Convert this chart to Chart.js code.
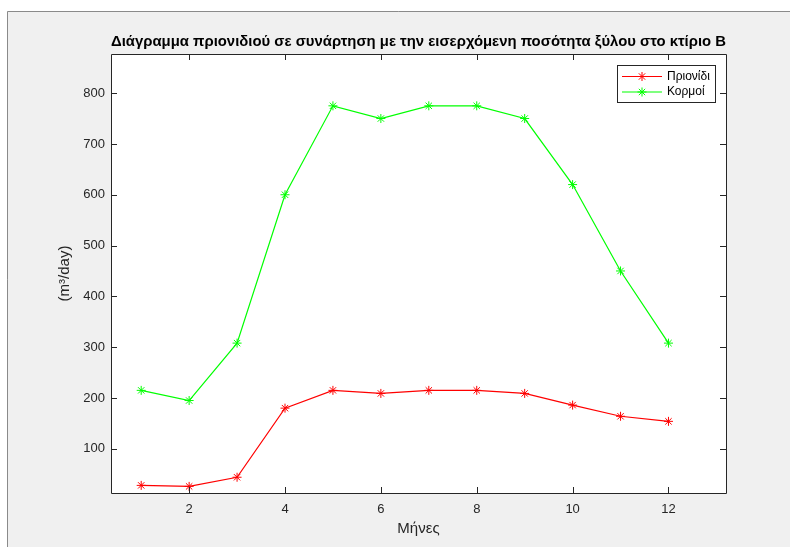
<!DOCTYPE html>
<html>
<head>
<meta charset="utf-8">
<title>Πριονίδι - Κορμοί</title>
<script src="https://cdn.jsdelivr.net/npm/chart.js@4.4.1/dist/chart.umd.min.js"></script>
<style>
    html, body { margin: 0; padding: 0; background: #ffffff; }
    canvas { display: block; }
</style>
</head>
<body>
<canvas id="woodChart" width="790" height="547"></canvas>
<script>
// months of the year
const months = [1, 2, 3, 4, 5, 6, 7, 8, 9, 10, 11, 12];
// sawdust produced (m3/day)
const sawdust = [28, 26, 44, 180, 215, 209, 215, 215, 209, 186, 164, 154];
// incoming logs (m3/day)
const logs = [215, 195, 308, 600, 775, 750, 775, 775, 750, 620, 450, 308];

const seriesNames = ["Πριονίδι", "Κορμοί"];
const seriesColors = ["#ff0000", "#00ff00"];

const xTickValues = [2, 4, 6, 8, 10, 12];
const yTickValues = [100, 200, 300, 400, 500, 600, 700, 800];

const axisColor = "#262626";
const fontFamily = "'Liberation Sans', Arial, Helvetica, sans-serif";

function toPoints(values) {
    return months.map((m, i) => ({ x: m, y: values[i] }));
}

// grey figure window with a white axes area
const figureFrame = {
    id: "figureFrame",
    beforeDraw(chart) {
        const ctx = chart.ctx;
        const area = chart.chartArea;
        ctx.save();
        ctx.fillStyle = "#ffffff";
        ctx.fillRect(0, 0, chart.width, chart.height);
        ctx.fillStyle = "#f0f0f0";
        ctx.fillRect(7, 11, chart.width - 7, chart.height - 11);
        ctx.strokeStyle = "#8a8a8a";
        ctx.lineWidth = 1;
        ctx.beginPath();
        ctx.moveTo(7.5, chart.height);
        ctx.lineTo(7.5, 11.5);
        ctx.lineTo(chart.width, 11.5);
        ctx.stroke();
        ctx.fillStyle = "#ffffff";
        ctx.fillRect(area.left, area.top, area.right - area.left, area.bottom - area.top);
        ctx.restore();
    }
};

// box around the axes with inward tick marks on all four sides
const axesBox = {
    id: "axesBox",
    afterDatasetsDraw(chart) {
        const ctx = chart.ctx;
        const a = chart.chartArea;
        const xs = chart.scales.x;
        const ys = chart.scales.y;
        const len = 6;
        ctx.save();
        ctx.strokeStyle = axisColor;
        ctx.lineWidth = 1;
        ctx.beginPath();
        ctx.rect(Math.round(a.left) + 0.5, Math.round(a.top) + 0.5,
            Math.round(a.right - a.left), Math.round(a.bottom - a.top));
        xTickValues.forEach(v => {
            const px = Math.round(xs.getPixelForValue(v)) + 0.5;
            ctx.moveTo(px, a.bottom);
            ctx.lineTo(px, a.bottom - len);
            ctx.moveTo(px, a.top);
            ctx.lineTo(px, a.top + len);
        });
        yTickValues.forEach(v => {
            const py = Math.round(ys.getPixelForValue(v)) + 0.5;
            ctx.moveTo(a.left, py);
            ctx.lineTo(a.left + len, py);
            ctx.moveTo(a.right, py);
            ctx.lineTo(a.right - len, py);
        });
        ctx.stroke();
        ctx.restore();
    }
};

function drawStar(ctx, x, y, r) {
    const d = r * Math.SQRT1_2;
    ctx.beginPath();
    ctx.moveTo(x - r, y); ctx.lineTo(x + r, y);
    ctx.moveTo(x, y - r); ctx.lineTo(x, y + r);
    ctx.moveTo(x - d, y - d); ctx.lineTo(x + d, y + d);
    ctx.moveTo(x - d, y + d); ctx.lineTo(x + d, y - d);
    ctx.stroke();
}

// boxed legend in the upper right corner of the axes
const boxedLegend = {
    id: "boxedLegend",
    afterDraw(chart) {
        const ctx = chart.ctx;
        const a = chart.chartArea;
        const w = 98, h = 37;
        const left = Math.round(a.right - 11 - w);
        const top = Math.round(a.top + 11);
        ctx.save();
        ctx.fillStyle = "#ffffff";
        ctx.fillRect(left, top, w, h);
        ctx.strokeStyle = axisColor;
        ctx.lineWidth = 1;
        ctx.strokeRect(left + 0.5, top + 0.5, w, h);
        ctx.font = "12px " + fontFamily;
        ctx.textBaseline = "middle";
        chart.data.datasets.forEach((ds, i) => {
            const y = top + 11.5 + i * 15.5;
            ctx.strokeStyle = ds.borderColor;
            ctx.lineWidth = 1.2;
            ctx.beginPath();
            ctx.moveTo(left + 5, y);
            ctx.lineTo(left + 45, y);
            ctx.stroke();
            ctx.lineWidth = 1;
            drawStar(ctx, left + 25, y, 4.5);
            ctx.fillStyle = "#000000";
            ctx.fillText(ds.label, left + 50, y);
        });
        ctx.restore();
    }
};

function makeDataset(i, values) {
    return {
        label: seriesNames[i],
        data: toPoints(values),
        borderColor: seriesColors[i],
        backgroundColor: seriesColors[i],
        borderWidth: 1.2,
        pointStyle: "star",
        pointRadius: 4.5,
        pointBorderWidth: 1,
        pointBorderColor: seriesColors[i],
        tension: 0,
        fill: false
    };
}

const ctx = document.getElementById("woodChart");

const woodChart = new Chart(ctx, {
    type: "line",
    data: {
        datasets: [makeDataset(0, sawdust), makeDataset(1, logs)]
    },
    options: {
        responsive: false,
        animation: false,
        devicePixelRatio: 1,
        layout: {
            padding: { left: 0, top: 0, right: 64, bottom: 0 }
        },
        plugins: {
            legend: { display: false },
            tooltip: { enabled: false },
            title: {
                display: true,
                fullSize: false,
                text: "Διάγραμμα πριονιδιού σε συνάρτηση με την εισερχόμενη ποσότητα ξύλου στο κτίριο B",
                color: "#000000",
                font: { family: fontFamily, size: 15.5, weight: "bold", lineHeight: 1.2 },
                padding: { top: 32, bottom: 3.4 }
            }
        },
        scales: {
            x: {
                type: "linear",
                min: 0.37,
                max: 13.2,
                grid: { display: false, drawTicks: false },
                border: { display: false },
                afterBuildTicks: scale => {
                    scale.ticks = xTickValues.map(v => ({ value: v }));
                },
                afterFit: scale => { scale.height = 54; },
                ticks: {
                    color: axisColor,
                    padding: 9,
                    maxRotation: 0,
                    font: { family: fontFamily, size: 13 }
                },
                title: {
                    display: true,
                    text: "Μήνες",
                    color: axisColor,
                    font: { family: fontFamily, size: 15, lineHeight: 1.2 },
                    padding: { top: 0, bottom: 9 }
                }
            },
            y: {
                type: "linear",
                min: 13,
                max: 877,
                grid: { display: false, drawTicks: false },
                border: { display: false },
                afterBuildTicks: scale => {
                    scale.ticks = yTickValues.map(v => ({ value: v }));
                },
                afterFit: scale => { scale.width = 111; },
                ticks: {
                    color: axisColor,
                    padding: 6,
                    font: { family: fontFamily, size: 13 }
                },
                title: {
                    display: true,
                    text: "(m³/day)",
                    color: axisColor,
                    font: { family: fontFamily, size: 15, lineHeight: 1.2 },
                    padding: { top: 56, bottom: 0 }
                }
            }
        }
    },
    plugins: [figureFrame, axesBox, boxedLegend]
});
</script>
</body>
</html>
